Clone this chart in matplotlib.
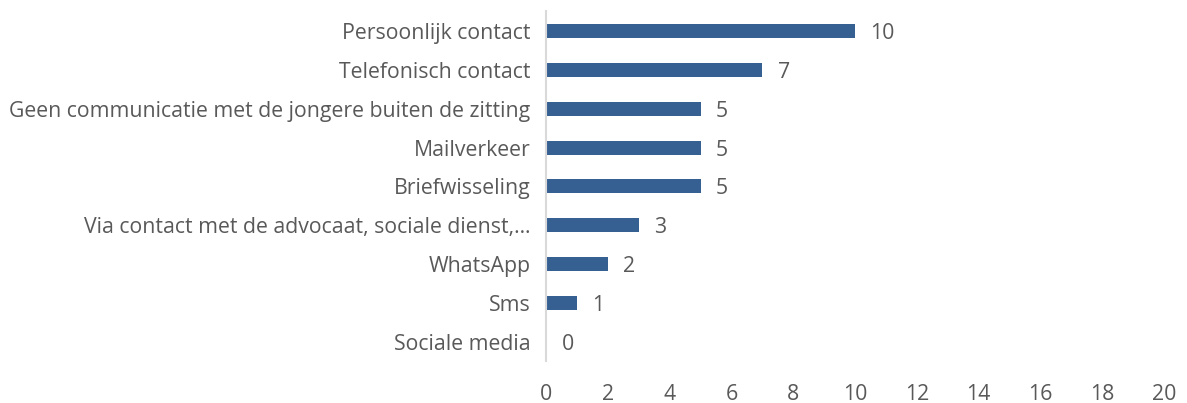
import matplotlib
matplotlib.use("Agg")
import matplotlib.pyplot as plt

plt.rcParams['font.family'] = ['Open Sans', 'DejaVu Sans']

categories = [
    "Persoonlijk contact",
    "Telefonisch contact",
    "Geen communicatie met de jongere buiten de zitting",
    "Mailverkeer",
    "Briefwisseling",
    "Via contact met de advocaat, sociale dienst,\u2026",
    "WhatsApp",
    "Sms",
    "Sociale media",
]
values = [10, 7, 5, 5, 5, 3, 2, 1, 0]
x_ticks = list(range(0, 21, 2))

bar_color = "#376092"
text_color = "#595959"
fs = 15.3

fig = plt.figure(figsize=(11.87, 4.03), dpi=100)
ax = fig.add_axes([0.46, 0.103, 0.5207, 0.8685])

pos = list(range(len(categories)))
ax.barh(pos, values, height=0.36, color=bar_color)
ax.set_ylim(len(categories) - 0.5, -0.5)
ax.set_xlim(0, 20)

ax.set_yticks(pos)
ax.set_yticklabels(categories, fontsize=fs, color=text_color)
ax.set_xticks(x_ticks)
ax.set_xticklabels([str(t) for t in x_ticks], fontsize=fs, color=text_color)
ax.tick_params(axis='both', length=0)
ax.tick_params(axis='y', pad=11)
ax.tick_params(axis='x', pad=16)

for s in ['top', 'right', 'bottom']:
    ax.spines[s].set_visible(False)
ax.spines['left'].set_color("#d9d9d9")
ax.spines['left'].set_linewidth(1.5)

# waarde-labels naast de balken
for p, v in zip(pos, values):
    ax.text(v + 0.5, p, str(v), va='center_baseline', ha='left', fontsize=fs, color=text_color)

fig.savefig("out.png", dpi=100)
